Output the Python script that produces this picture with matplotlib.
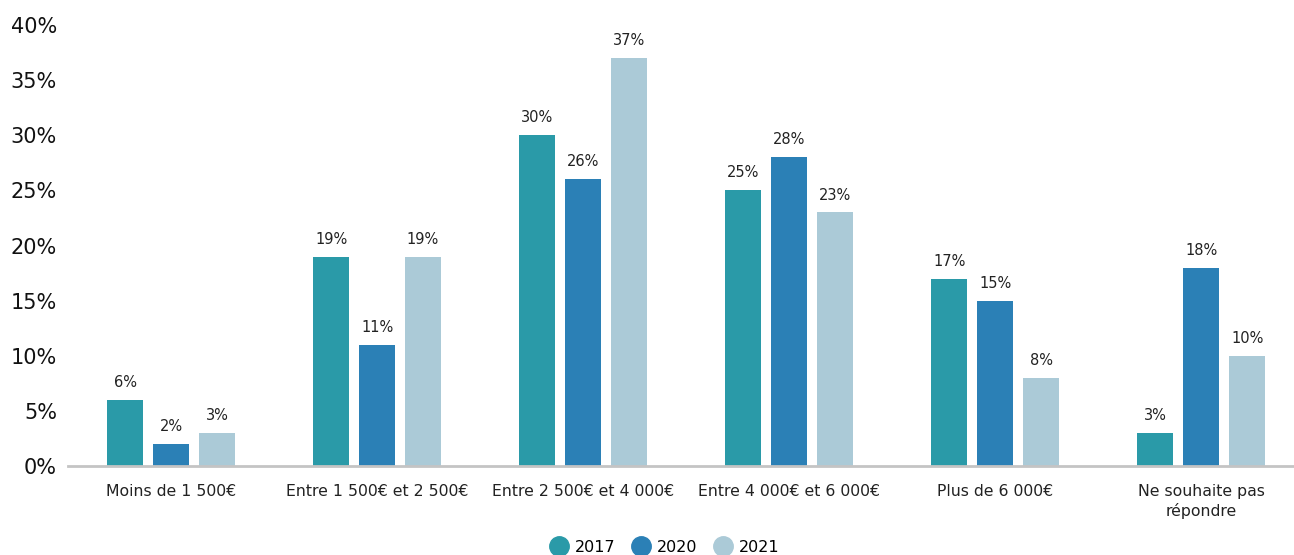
import matplotlib
matplotlib.use("Agg")
import matplotlib.pyplot as plt
import numpy as np
from matplotlib.lines import Line2D

categories = ["Moins de 1 500€", "Entre 1 500€ et 2 500€", "Entre 2 500€ et 4 000€",
              "Entre 4 000€ et 6 000€", "Plus de 6 000€", "Ne souhaite pas\nrépondre"]
years = ["2017", "2020", "2021"]
values_2017 = [6, 19, 30, 25, 17, 3]
values_2020 = [2, 11, 26, 28, 15, 18]
values_2021 = [3, 19, 37, 23, 8, 10]
yticks = [0, 5, 10, 15, 20, 25, 30, 35, 40]

colors = ["#2a9aa8", "#2b80b6", "#abcad7"]
series = [values_2017, values_2020, values_2021]

plt.rcParams["font.family"] = ["DejaVu Sans"]

fig = plt.figure(figsize=(12.94, 5.55), dpi=100)
ax = fig.add_axes([68 / 1294, 89 / 555, 1 - 68 / 1294, (466 - 25) / 555])

x = np.arange(len(categories))
width = 0.175
step = 0.223
for i, (vals, col) in enumerate(zip(series, colors)):
    pos = x + (i - 1) * step
    ax.bar(pos, vals, width=width, color=col, zorder=2)
    for px, v in zip(pos, vals):
        ax.text(px, v + 0.9, f"{v}%", ha="center", va="bottom", fontsize=10.5,
                color="#222222")

ax.set_ylim(0, 40)
ax.set_xlim(-0.5, 5.45)
ax.set_yticks(yticks)
ax.set_yticklabels([f"{t}%" for t in yticks], fontsize=15, color="#111111")
ax.set_xticks(x)
ax.set_xticklabels(categories, fontsize=11.3, color="#222222", linespacing=1.3)
ax.tick_params(axis="both", length=0)
ax.tick_params(axis="x", pad=13)
ax.tick_params(axis="y", pad=8)

for s in ["top", "right", "left"]:
    ax.spines[s].set_visible(False)
ax.spines["bottom"].set_color("#c4c4c4")
ax.spines["bottom"].set_linewidth(2)

handles = [Line2D([], [], marker="o", linestyle="", markersize=14,
                  markerfacecolor=c, markeredgecolor=c) for c in colors]
fig.legend(handles, years, loc="center", bbox_to_anchor=(663 / 1294, 1 - 547 / 555),
           ncol=3, frameon=False, fontsize=11.5, handletextpad=0.2,
           columnspacing=0.8, handlelength=1.6)

fig.savefig("out.png", dpi=100)
